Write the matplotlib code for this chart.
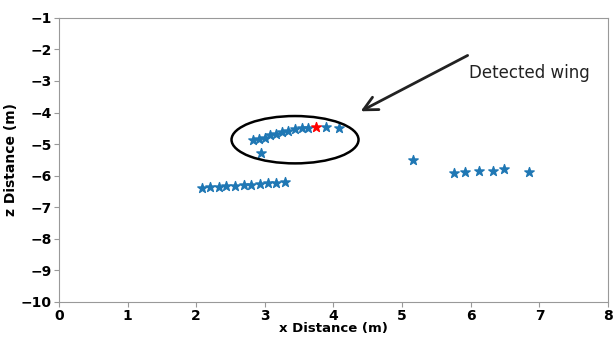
import numpy as np
import matplotlib

matplotlib.use("Agg")
import matplotlib.pyplot as plt
from matplotlib.patches import Ellipse

# lower row of detections
low_x = [2.08, 2.20, 2.33, 2.44, 2.57, 2.69, 2.80, 2.93, 3.05, 3.17, 3.30]
low_z = [-6.38, -6.37, -6.35, -6.34, -6.32, -6.30, -6.28, -6.26, -6.24, -6.22, -6.20]

# wing cluster
wing_x = [2.83, 2.91, 3.00, 3.08, 3.17, 3.25, 3.34, 3.44, 3.54, 3.63, 3.89, 4.08, 2.95]
wing_z = [-4.86, -4.83, -4.80, -4.72, -4.67, -4.62, -4.57, -4.52, -4.49, -4.49, -4.47, -4.50, -5.29]

# right-hand detections
right_x = [5.16, 5.76, 5.92, 6.12, 6.33, 6.49, 6.85]
right_z = [-5.50, -5.91, -5.88, -5.86, -5.86, -5.80, -5.89]

# highlighted point
red_x = [3.75]
red_z = [-4.45]

fig = plt.figure(figsize=(6.13, 3.37), dpi=100)
ax = fig.add_axes([0.096, 0.104, 0.896, 0.843])

blue = "#1f77b4"
ax.scatter(low_x, low_z, marker="*", s=50, color=blue)
ax.scatter(wing_x, wing_z, marker="*", s=50, color=blue)
ax.scatter(right_x, right_z, marker="*", s=50, color=blue)
ax.scatter(red_x, red_z, marker="*", s=50, color="red", zorder=3)

ax.add_patch(Ellipse((3.44, -4.86), 1.85, 1.5, fill=False, edgecolor="black", lw=1.8))
ax.annotate("", xy=(4.36, -4.0), xytext=(5.99, -2.15),
            arrowprops=dict(arrowstyle="->,head_length=1.0,head_width=0.5", color="#222222", lw=2))
ax.text(5.98, -2.76, "Detected wing", fontsize=12, va="center", ha="left", color="#222222")

ax.set_xlim(0, 8)
ax.set_ylim(-10, -1)
ax.set_xticks(range(0, 9))
ax.set_yticks(range(-10, 0))
for lbl in ax.get_xticklabels() + ax.get_yticklabels():
    lbl.set_fontweight("bold")
    lbl.set_fontsize(10)
ax.set_xlabel("x Distance (m)", fontsize=9.5, fontweight="bold", labelpad=-0.5)
ax.set_ylabel("z Distance (m)", fontsize=10, fontweight="bold", labelpad=2)
for sp in ax.spines.values():
    sp.set_color("#999999")
ax.tick_params(color="#999999", pad=1.5)

fig.savefig("out.png", dpi=100)
